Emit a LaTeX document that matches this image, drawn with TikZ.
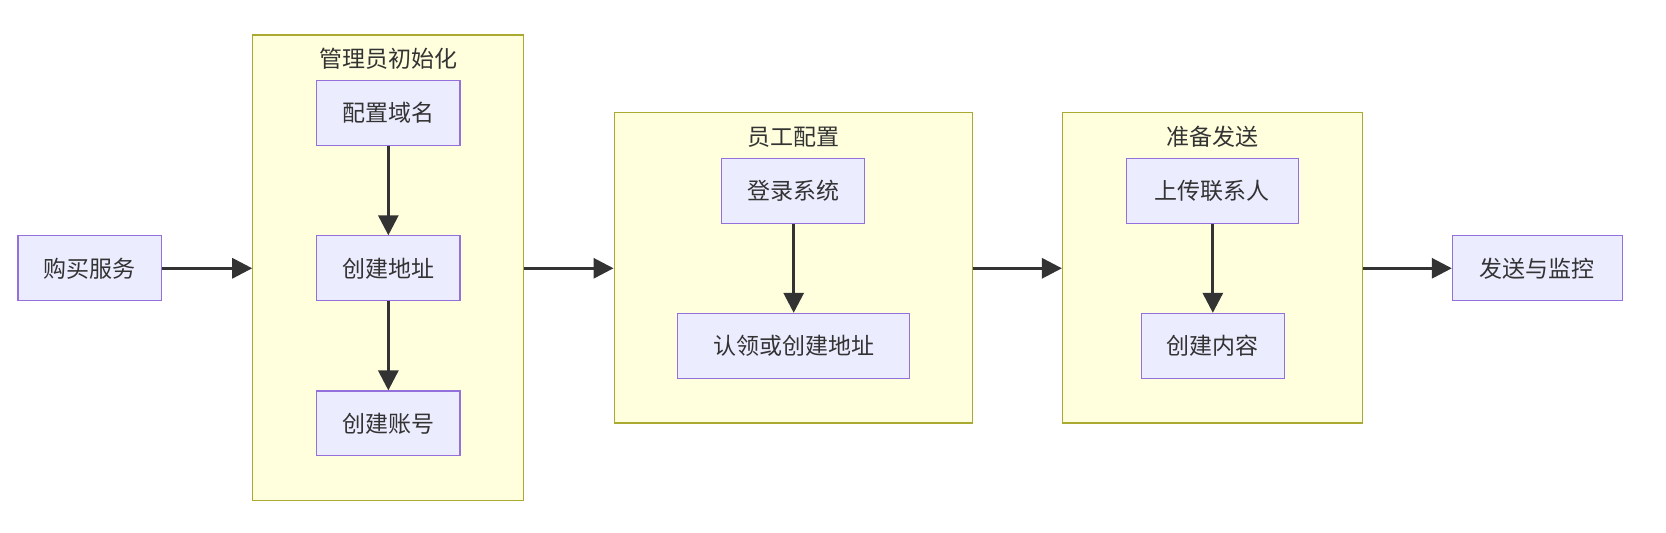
\documentclass[tikz,border=0pt]{standalone}
\usepackage{fontspec}
\setmainfont{Noto Sans CJK SC}
\usetikzlibrary{arrows.meta}
\definecolor{bfill}{HTML}{ECECFF}
\definecolor{bdraw}{HTML}{9370DB}
\definecolor{cfill}{HTML}{FFFFDE}
\definecolor{cdraw}{HTML}{AAAA33}
\definecolor{ln}{HTML}{333333}
\begin{document}
\begin{tikzpicture}[x=1.0625pt,y=-1.0625pt,
  box/.style={draw=bdraw,fill=bfill,line width=1.2pt,minimum height=64.8pt,inner sep=0pt,font=\fontsize{23}{28}\selectfont,text=ln},
  clu/.style={draw=cdraw,fill=cfill,line width=1.2pt,inner sep=0pt},
  ctitle/.style={font=\fontsize{23}{28}\selectfont,text=ln},
  arr/.style={draw=ln,line width=3pt,-{Triangle[length=20pt,width=20pt]}}]
\useasboundingbox (0,0) rectangle (1568,501.6);
\node[clu,minimum width=271pt,minimum height=465.4pt] (c1) at (365.5,252) {};
\node[clu,minimum width=358pt,minimum height=310.3pt] (c2) at (746.5,252) {};
\node[clu,minimum width=299.6pt,minimum height=310.3pt] (c3) at (1141,252) {};
\node[ctitle] (t1) at (365.5,55) {管理员初始化};
\node[ctitle] (t2) at (746.5,129) {员工配置};
\node[ctitle] (t3) at (1141,129) {准备发送};
\node[box,minimum width=143.4pt] (a) at (84.5,252.5) {购买服务};
\node[box,minimum width=143.4pt] (b1) at (365.5,106.5) {配置域名};
\node[box,minimum width=143.4pt] (b2) at (365.5,252.5) {创建地址};
\node[box,minimum width=143.4pt] (b3) at (365.5,398.5) {创建账号};
\node[box,minimum width=143.4pt] (d1) at (746.5,179.5) {登录系统};
\node[box,minimum width=231.6pt] (d2) at (747,325.5) {认领或创建地址};
\node[box,minimum width=172.1pt] (e1) at (1141,179.5) {上传联系人};
\node[box,minimum width=143.4pt] (e2) at (1141.5,325.5) {创建内容};
\node[box,minimum width=170pt] (f) at (1447,252.5) {发送与监控};
\draw[arr] (a) -- (c1.west|-a);
\draw[arr] (b1) -- (b2);
\draw[arr] (b2) -- (b3);
\draw[arr] (c1.east|-a) -- (c2.west|-a);
\draw[arr] (d1.south-|d2) -- (d2);
\draw[arr] (c2.east|-a) -- (c3.west|-a);
\draw[arr] (e1.south-|e2) -- (e2);
\draw[arr] (c3.east|-a) -- (f);
\end{tikzpicture}
\end{document}
